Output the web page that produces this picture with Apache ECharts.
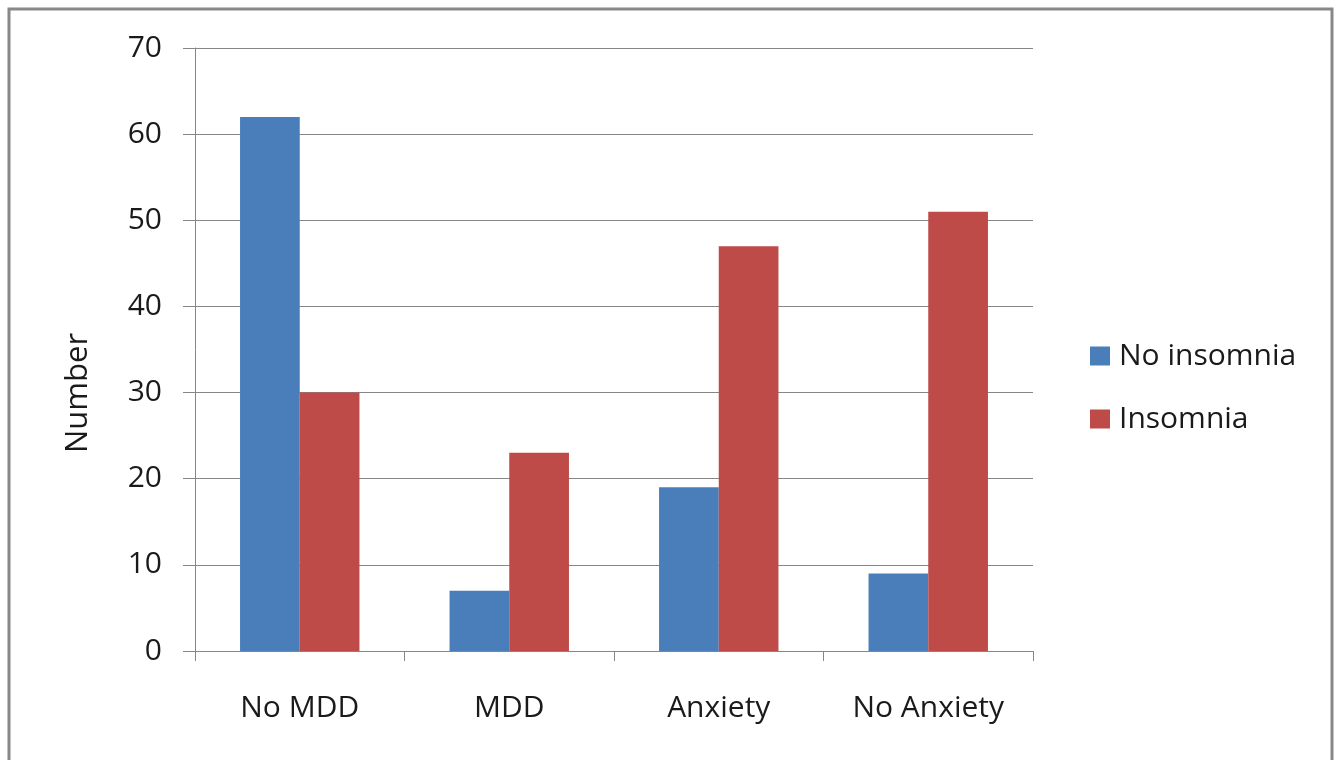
<!DOCTYPE html>
<html><head><meta charset="utf-8">
<script src="https://cdn.jsdelivr.net/npm/echarts@6/dist/echarts.min.js"></script>
<style>html,body{margin:0;padding:0;background:#fff;}#c{width:1339px;height:760px;}</style>
</head><body><div id="c"></div>
<script>
const categories = ['No MDD', 'MDD', 'Anxiety', 'No Anxiety'];
const noInsomnia = [62, 7, 19, 9];
const insomnia = [30, 23, 47, 51];
const seriesNames = ['No insomnia', 'Insomnia'];
const yAxisTitle = 'Number';

const font = '"Open Sans", "Noto Sans", sans-serif';
const chart = echarts.init(document.getElementById('c'));
chart.setOption({
  animation: false,
  backgroundColor: '#fff',
  textStyle: {fontFamily: font},
  grid: {left: 195, right: 306, top: 48, bottom: 109},
  legend: {
    orient: 'vertical', left: 1085, top: 336,
    itemWidth: 20, itemHeight: 19, itemGap: 33, icon: 'rect',
    textStyle: {fontFamily: font, fontSize: 30, color: '#1a1a1a', padding: [0, 0, 0, 4]},
    data: seriesNames
  },
  graphic: [
    {type: 'rect', shape: {x: 9, y: 9, width: 1323, height: 800}, style: {fill: 'none', stroke: '#888', lineWidth: 3}, silent: true, z: -1},
    {type: 'text', x: 78, y: 393, rotation: Math.PI / 2, style: {text: yAxisTitle, fontFamily: font, fontSize: 31, fill: '#1a1a1a', align: 'center', verticalAlign: 'middle'}}
  ],
  xAxis: {
    type: 'category', data: categories,
    axisLine: {lineStyle: {color: '#868686', width: 1}},
    axisTick: {show: true, length: 10, lineStyle: {color: '#868686'}},
    axisLabel: {fontFamily: font, fontSize: 30, color: '#1a1a1a', margin: 42}
  },
  yAxis: {
    type: 'value', min: 0, max: 70, interval: 10,
    axisLine: {show: true, lineStyle: {color: '#868686', width: 1}},
    axisTick: {show: true, length: 12, lineStyle: {color: '#868686'}},
    splitLine: {lineStyle: {color: '#868686', width: 1}},
    axisLabel: {fontFamily: font, fontSize: 30, color: '#1a1a1a', margin: 33}
  },
  series: [
    {name: seriesNames[0], type: 'bar', data: noInsomnia, itemStyle: {color: '#4a7ebb'}, barGap: '0%', barCategoryGap: '43%'},
    {name: seriesNames[1], type: 'bar', data: insomnia, itemStyle: {color: '#be4b48'}, barGap: '0%', barCategoryGap: '43%'}
  ]
});
</script></body></html>
